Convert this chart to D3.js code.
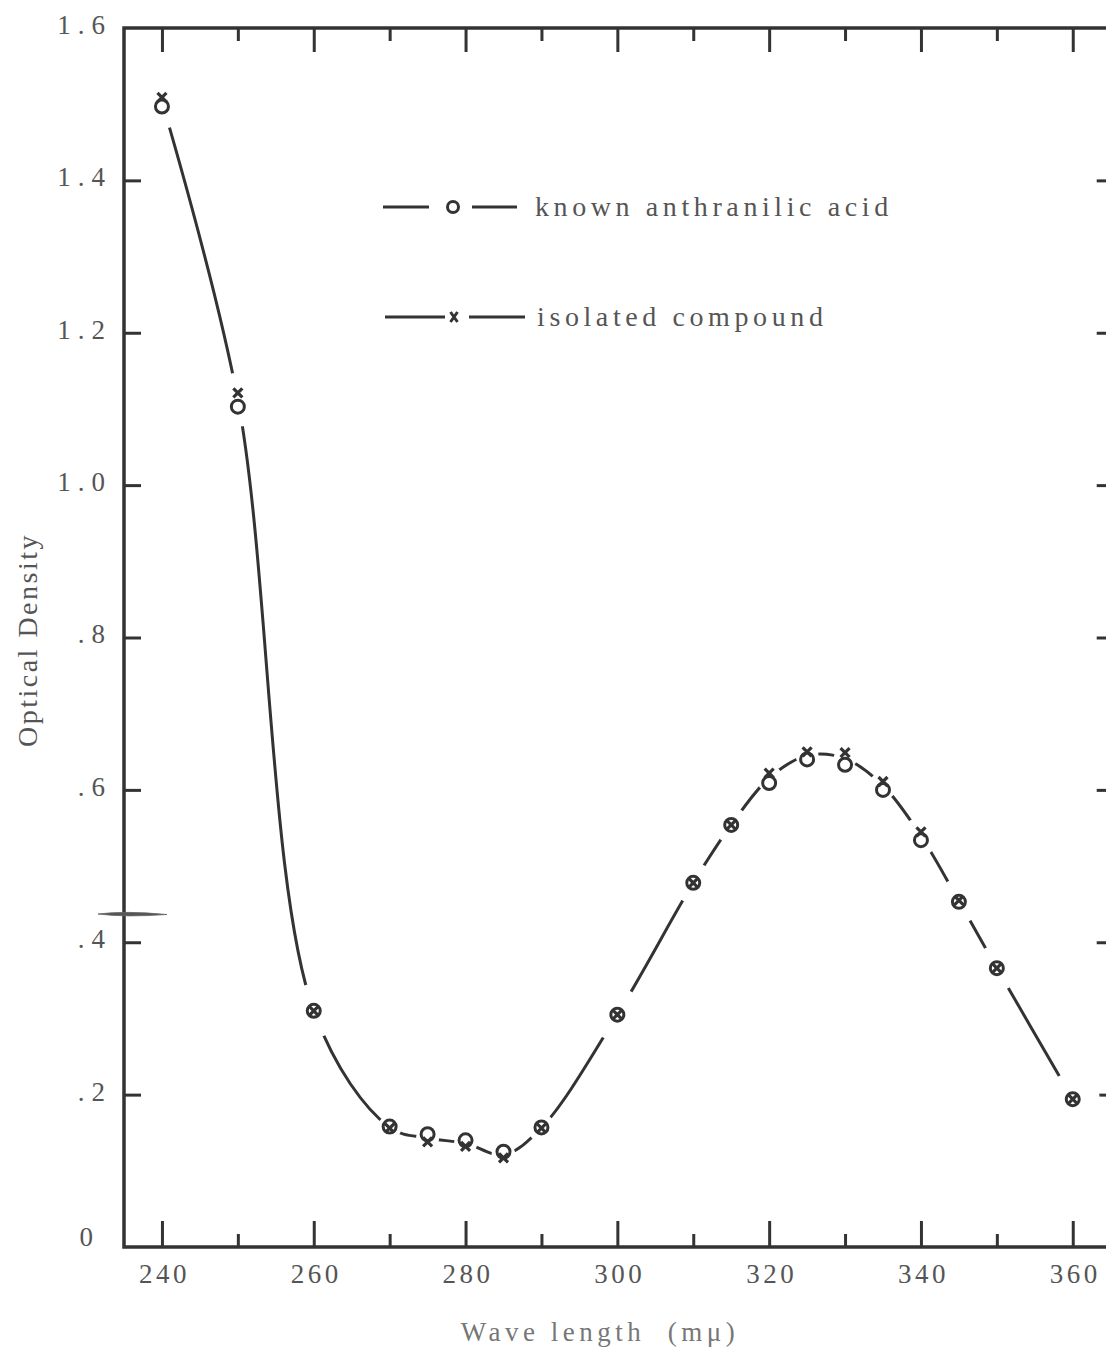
<!DOCTYPE html>
<html>
<head>
<meta charset="utf-8">
<script src="https://cdn.jsdelivr.net/npm/d3@7"></script>
<style>
  body { margin: 0; background: #fff; }
  text { font-family: "Liberation Serif", serif; fill: #555; }
</style>
</head>
<body>
<script>
// données
const wavelengths = [240, 250, 260, 270, 275, 280, 285, 290, 300, 310, 315, 320, 325, 330, 335, 340, 345, 350, 360];
const knownAcid  = [1.497, 1.103, 0.31, 0.158, 0.148, 0.14, 0.125, 0.157, 0.305, 0.478, 0.554, 0.609, 0.640, 0.633, 0.600, 0.534, 0.453, 0.366, 0.194];
const isolated   = [1.509, 1.121, 0.31, 0.156, 0.138, 0.132, 0.117, 0.156, 0.305, 0.478, 0.554, 0.622, 0.650, 0.649, 0.611, 0.545, 0.455, 0.366, 0.194];
const seriesNames = ["known anthranilic acid", "isolated compound"];
const xMajor = [240, 260, 280, 300, 320, 340, 360];
const xMinor = [250, 270, 290, 310, 330, 350];
const yTicks = [0, 0.2, 0.4, 0.6, 0.8, 1.0, 1.2, 1.4, 1.6];
const yLabels = ["0", ".2", ".4", ".6", ".8", "1.0", "1.2", "1.4", "1.6"];

const W = 1106, H = 1359;
const ink = "#333";

let svg = d3.select("body").append("svg")
    .attr("width", W)
    .attr("height", H);

// échelles
let x = d3.scaleLinear().domain([235, 365]).range([124, 124 + 130 * 7.59]);
let y = d3.scaleLinear().domain([0, 1.6]).range([1247, 28]);

// axes : ticks seulement, le cadre est dessiné à part
function clean(g) {
    g.select(".domain").remove();
    g.selectAll(".tick line").attr("stroke", ink).attr("stroke-width", 3);
}

// bas
svg.append("g")
    .attr("transform", "translate(0," + y(0) + ")")
    .call(d3.axisBottom(x).tickValues(xMajor).tickSizeInner(-26).tickSizeOuter(0).tickPadding(17))
    .call(clean)
    .selectAll("text")
    .attr("dx", "2px")
    .style("font-size", "27px")
    .style("font-family", "Liberation Serif")
    .style("fill", "#555")
    .style("letter-spacing", "3.5px");

svg.append("g")
    .attr("transform", "translate(0," + y(0) + ")")
    .call(d3.axisBottom(x).tickValues(xMinor).tickSizeInner(-13).tickSizeOuter(0).tickFormat(""))
    .call(clean);

// haut
svg.append("g")
    .attr("transform", "translate(0," + y(1.6) + ")")
    .call(d3.axisTop(x).tickValues(xMajor).tickSizeInner(-24).tickSizeOuter(0).tickFormat(""))
    .call(clean);

svg.append("g")
    .attr("transform", "translate(0," + y(1.6) + ")")
    .call(d3.axisTop(x).tickValues(xMinor).tickSizeInner(-13).tickSizeOuter(0).tickFormat(""))
    .call(clean);

// gauche
let yAxis = svg.append("g")
    .attr("transform", "translate(" + x(235) + ",0)")
    .call(d3.axisLeft(y).tickValues(yTicks).tickSizeInner(-17).tickSizeOuter(0).tickPadding(20)
        .tickFormat((d, i) => yLabels[i]))
    .call(clean);
yAxis.selectAll(".tick line").filter(d => d === 0 || d === 1.6).remove();
yAxis.selectAll("text")
    .attr("x", 112 - x(235))
    .attr("dy", "0.2em")
    .style("font-size", "27px")
    .style("font-family", "Liberation Serif")
    .style("fill", "#555")
    .style("letter-spacing", "7px")
    .style("text-anchor", "end");
yAxis.selectAll("text").filter(d => d === 0).attr("x", 100 - x(235)).attr("dy", "-0.05em");

// droite (l'axe est juste hors cadre)
svg.append("g")
    .attr("transform", "translate(" + x(365) + ",0)")
    .call(d3.axisRight(y).tickValues(yTicks.filter(d => d > 0 && d < 1.6)).tickSizeInner(-14).tickSizeOuter(0).tickFormat(""))
    .call(clean);

// cadre
svg.append("path")
    .attr("d", d3.line()([[x(365), y(1.6)], [x(235), y(1.6)], [x(235), y(0)], [x(365), y(0)]]))
    .attr("fill", "none")
    .attr("stroke", ink)
    .attr("stroke-width", 3.5);

// trait de crayon à gauche (scan)
svg.append("path")
    .attr("d", "M98,914 Q125,910.5 167,914.5 Q125,917.5 98,914 Z")
    .attr("fill", "#555")
    .attr("stroke", "#666")
    .attr("stroke-width", 0.8);

// courbe (moyenne des deux séries)
const curveData = wavelengths.map((w, i) => ({ w: w, v: (knownAcid[i] + isolated[i]) / 2 }));

svg.append("path")
    .datum(curveData)
    .attr("fill", "none")
    .attr("stroke", ink)
    .attr("stroke-width", 3)
    .attr("d", d3.line()
        .x(d => x(d.w))
        .y(d => y(d.v))
        .curve(d3.curveCatmullRom.alpha(0.5)));

// masques blancs pour couper la courbe autour des points
function gapRadius(i) {
    let dists = [];
    [i - 1, i + 1].forEach(j => {
        if (j >= 0 && j < curveData.length) {
            let dx = x(curveData[j].w) - x(curveData[i].w);
            let dy = y(curveData[j].v) - y(curveData[i].v);
            dists.push(Math.sqrt(dx * dx + dy * dy));
        }
    });
    return Math.min(27, 0.3 * d3.min(dists));
}

svg.append("g")
    .selectAll("circle")
    .data(curveData)
    .enter()
    .append("circle")
    .attr("cx", d => x(d.w))
    .attr("cy", d => y(d.v))
    .attr("r", (d, i) => gapRadius(i))
    .attr("fill", "#fff");

// points : cercles
svg.append("g")
    .selectAll("circle")
    .data(wavelengths)
    .enter()
    .append("circle")
    .attr("cx", d => x(d))
    .attr("cy", (d, i) => y(knownAcid[i]))
    .attr("r", 6.5)
    .attr("fill", "#fff")
    .attr("stroke", ink)
    .attr("stroke-width", 3);

// points : croix
const s = 4.5;
svg.append("g")
    .selectAll("path")
    .data(wavelengths)
    .enter()
    .append("path")
    .attr("transform", (d, i) => "translate(" + x(d) + "," + y(isolated[i]) + ")")
    .attr("d", `M${-s},${-s}L${s},${s}M${s},${-s}L${-s},${s}`)
    .attr("stroke", ink)
    .attr("stroke-width", 3.2)
    .attr("fill", "none");

// légende
let legend = svg.append("g");
legend.append("line").attr("x1", 383).attr("x2", 429).attr("y1", 207).attr("y2", 207).attr("stroke", ink).attr("stroke-width", 3);
legend.append("line").attr("x1", 472).attr("x2", 517).attr("y1", 207).attr("y2", 207).attr("stroke", ink).attr("stroke-width", 3);
legend.append("circle").attr("cx", 453).attr("cy", 207).attr("r", 5.5).attr("fill", "#fff").attr("stroke", ink).attr("stroke-width", 3);
legend.append("text").text(seriesNames[0])
    .attr("x", 535).attr("y", 216)
    .style("font-size", "28px")
    .style("letter-spacing", "4.6px");

legend.append("line").attr("x1", 385).attr("x2", 445).attr("y1", 317).attr("y2", 317).attr("stroke", ink).attr("stroke-width", 3);
legend.append("line").attr("x1", 469).attr("x2", 525).attr("y1", 317).attr("y2", 317).attr("stroke", ink).attr("stroke-width", 3);
legend.append("path")
    .attr("transform", "translate(454,317)")
    .attr("d", `M-3.5,-5L3.5,5M3.5,-5L-3.5,5`)
    .attr("stroke", ink).attr("stroke-width", 3).attr("fill", "none");
legend.append("text").text(seriesNames[1])
    .attr("x", 537).attr("y", 326)
    .style("font-size", "28px")
    .style("letter-spacing", "4.6px");

// titres des axes
svg.append("text")
    .text("Optical Density")
    .attr("transform", "translate(37,640) rotate(-90)")
    .attr("text-anchor", "middle")
    .style("font-size", "28px")
    .style("letter-spacing", "2.5px");

svg.append("text")
    .text("Wave length  (mμ)")
    .attr("x", 600)
    .attr("y", 1341)
    .attr("text-anchor", "middle")
    .attr("xml:space", "preserve")
    .style("white-space", "pre")
    .style("font-size", "27px")
    .style("letter-spacing", "4.5px")
    .style("fill", "#777");
</script>
</body>
</html>
